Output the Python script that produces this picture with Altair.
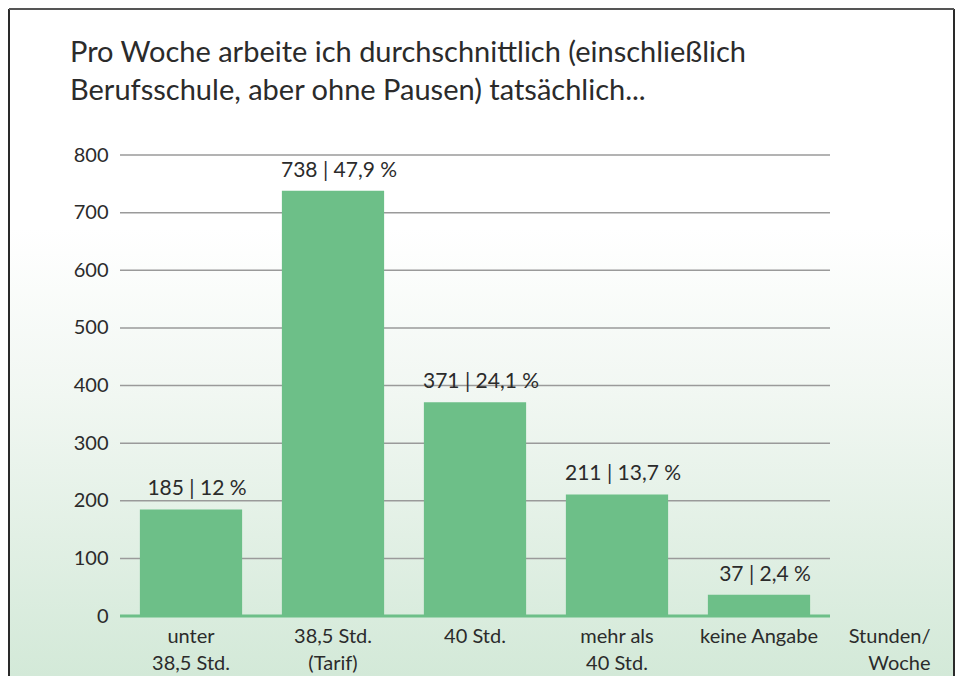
import altair as alt
import pandas as pd

categories = ["unter|38,5 Std.", "38,5 Std.|(Tarif)", "40 Std.", "mehr als|40 Std.", "keine Angabe"]
counts = [185, 738, 371, 211, 37]
percents = ["12 %", "47,9 %", "24,1 %", "13,7 %", "2,4 %"]
y_ticks = [0, 100, 200, 300, 400, 500, 600, 700, 800]
title_lines = ["Pro Woche arbeite ich durchschnittlich (einschließlich",
               "Berufsschule, aber ohne Pausen) tatsächlich..."]
unit_title = ["Stunden/", "Woche"]

df = pd.DataFrame({
    "cat": categories,
    "count": counts,
    "label": [f"{c} | {p}" for c, p in zip(counts, percents)],
})
grid_df = pd.DataFrame({"v": y_ticks[1:]})

FONT = "Lato"
TXT = "#2b2b2b"
GREEN = "#6dbf88"
W, H = 710, 461
PL, PT, PR, PB = 112, 147, 125, 60

one = alt.Data(values=[{}])

bg = alt.Chart(one).mark_rect(
    fill=alt.LinearGradient(
        gradient="linear", x1=0, x2=0, y1=0, y2=1,
        stops=[alt.GradientStop(color="#ffffff", offset=0),
               alt.GradientStop(color="#ffffff", offset=0.33),
               alt.GradientStop(color="#f1f7f2", offset=0.58),
               alt.GradientStop(color="#d3e9d8", offset=1)]),
).encode(x=alt.value(-PL), x2=alt.value(W + PR), y=alt.value(-PT), y2=alt.value(H + PB))

frame_left = alt.Chart(one).mark_rule(color="#2a2a2a", strokeWidth=2).encode(
    x=alt.value(-PL + 1), y=alt.value(-PT + 1), y2=alt.value(H + PB))
frame_right = alt.Chart(one).mark_rule(color="#2a2a2a", strokeWidth=2).encode(
    x=alt.value(W + PR - 1), y=alt.value(-PT + 1), y2=alt.value(H + PB))
frame_top = alt.Chart(one).mark_rule(color="#555555", strokeWidth=2).encode(
    x=alt.value(-PL + 1), x2=alt.value(W + PR - 1), y=alt.value(-PT + 1))

y_scale = alt.Scale(domain=[0, 800], nice=False)

x_enc = alt.X("cat:N", sort=None, scale=alt.Scale(paddingInner=0.28, paddingOuter=0.14),
              axis=alt.Axis(title=unit_title, labelExpr="split(datum.label, '|')",
                            labelAngle=0, domain=False, ticks=False, labelPadding=26,
                            labelBaseline="alphabetic", labelLineHeight=27,
                            labelFont=FONT, labelFontSize=20, labelColor=TXT,
                            titleFont=FONT, titleFontSize=20, titleColor=TXT,
                            titleFontWeight="normal", titleAlign="right",
                            titleAnchor="end", titleX=W + 100, titleY=26,
                            titleBaseline="alphabetic", titleLineHeight=27,
                            zindex=1))
y_enc = alt.Y("count:Q", scale=y_scale,
              axis=alt.Axis(title=None, values=y_ticks, domain=False, ticks=False,
                            grid=False, labelPadding=12, labelFont=FONT,
                            labelFontSize=20, labelColor=TXT, zindex=1))

grid = alt.Chart(grid_df).mark_rule(color="#9a9a9a", strokeWidth=1.5).encode(
    y=alt.Y("v:Q", scale=y_scale), x=alt.value(0), x2=alt.value(W))
bars = alt.Chart(df).mark_bar(color=GREEN).encode(x=x_enc, y=y_enc)
labels = alt.Chart(df).mark_text(font=FONT, fontSize=21, color=TXT, baseline="bottom",
                                 dy=-10, dx=6).encode(
    x=alt.X("cat:N", sort=None), y="count:Q", text="label:N")
zero = alt.Chart(one).mark_rule(color=GREEN, strokeWidth=3).encode(
    x=alt.value(0), x2=alt.value(W), y=alt.value(H))

chart = alt.layer(bg, frame_left, frame_right, frame_top, grid, bars, zero, labels).properties(
    width=W, height=H,
    title=alt.TitleParams(text=title_lines, anchor="start", frame="group", dx=-50,
                          font=FONT, fontSize=29, fontWeight="normal", color=TXT,
                          lineHeight=38, offset=0, dy=98, zindex=1),
    autosize=alt.AutoSizeParams(type="none"),
    padding={"left": PL, "top": PT, "right": PR, "bottom": PB},
).configure_view(stroke=None)

chart.save("out.html", embed_options={"renderer": "svg", "actions": False})
